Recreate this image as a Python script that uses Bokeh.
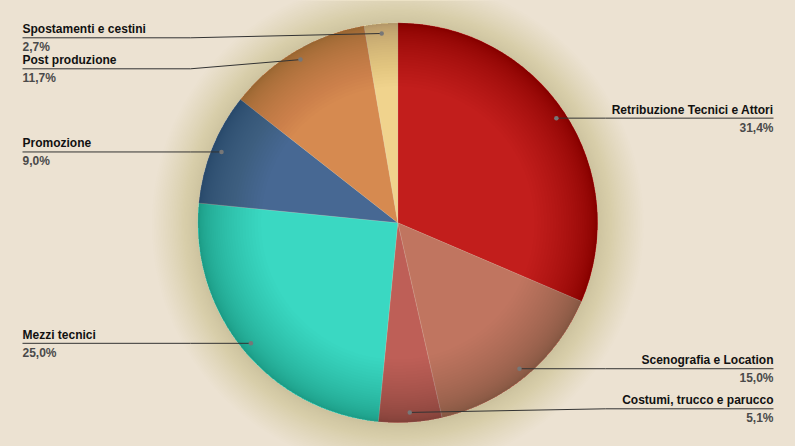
import math
from bokeh.plotting import figure
from bokeh.models import Range1d
from bokeh.core.properties import value
from bokeh.embed import file_html
from bokeh.resources import INLINE

# ---- data ----
categories = ["Retribuzione Tecnici e Attori", "Scenografia e Location", "Costumi, trucco e parucco",
              "Mezzi tecnici", "Promozione", "Post produzione", "Spostamenti e cestini"]
percent = [31.4, 15.0, 5.1, 25.0, 9.0, 11.7, 2.7]
colors = ["#C21E1C", "#C07560", "#BE5F57", "#3AD8C2", "#476893", "#D68A50", "#F0D38D"]

# ---- layout ----
W, H = 795, 446
BG = "#ECE2D2"
CX, CY_PAGE = 397.3, 222.3
R = 200.0
DOT_R = 190.0


def py(page_y):
    return H - page_y


CY = py(CY_PAGE)

p = figure(width=W, height=H, x_range=Range1d(0, W), y_range=Range1d(0, H),
           output_backend="svg", toolbar_location=None, min_border=0,
           x_axis_type=None, y_axis_type=None,
           background_fill_color=BG, border_fill_color=BG, outline_line_color=None)
p.grid.visible = False

# soft shadow around the pie
n_sh = 32
for k in range(n_sh):
    r = R + 46 * ((k + 1) / n_sh) ** 1.3
    p.circle(x=[CX], y=[CY - 1.5], radius=r, radius_units="screen",
             fill_color="#a5865a", fill_alpha=0.012, line_color=None)

# wedges
total = sum(percent)
cum = 0.0
mids = []
for cat, v, c in zip(categories, percent, colors):
    a0 = math.pi / 2 - 2 * math.pi * cum / total
    a1 = math.pi / 2 - 2 * math.pi * (cum + v) / total
    p.wedge(x=[CX], y=[CY], radius=R, radius_units="screen", start_angle=a0, end_angle=a1,
            direction="clock", fill_color=c, line_color="#ffffff", line_alpha=0.15, line_width=0.8)
    mids.append(math.pi / 2 - 2 * math.pi * (cum + v / 2) / total)
    cum += v

# rim darkening (smooth)
n_rim = 30
for k in range(n_rim):
    d = 1.5 + 62 * ((k + 1) / n_rim) ** 1.6
    p.annulus(x=[CX], y=[CY], inner_radius=R - d, outer_radius=R, inner_radius_units="screen",
              outer_radius_units="screen", fill_color="#2a0a00", fill_alpha=0.0095, line_color=None)

# label positions
dots = []
for m in mids:
    dx = CX + DOT_R * math.cos(m)
    dy_page = CY_PAGE - DOT_R * math.sin(m)
    dots.append((dx, dy_page))

left = [i for i, d in enumerate(dots) if d[0] < CX]
right = [i for i, d in enumerate(dots) if d[0] >= CX]
ly = {}
TOP, BOT, GAP = 37.3, 408.3, 31
for side in (left, right):
    order = sorted(side, key=lambda i: dots[i][1])
    prev = None
    for i in order:
        y = max(dots[i][1], TOP)
        if prev is not None:
            y = max(y, prev + GAP)
        ly[i] = y
        prev = y
    nxt = None
    for i in reversed(order):
        y = min(ly[i], BOT)
        if nxt is not None:
            y = min(y, nxt - GAP)
        ly[i] = y
        nxt = y

xs, ys = [], []
for i, (dx, dyp) in enumerate(dots):
    is_left = dx < CX
    x_edge = 22 if is_left else 773
    x_bend = 190 if is_left else 605
    xs.append([x_edge, x_bend, dx])
    ys.append([py(ly[i]), py(ly[i]), py(dyp)])
    align = "left" if is_left else "right"
    p.text(x=[x_edge], y=[py(ly[i] - 8.5)], text=[categories[i]], text_align=align,
           text_baseline="alphabetic", text_font=value("Liberation Sans"), text_font_style="bold",
           text_font_size="12px", text_color="#111111")
    lab = ("%.1f" % percent[i]).replace(".", ",") + "%"
    p.text(x=[x_edge], y=[py(ly[i] + 9.5)], text=[lab], text_align=align,
           text_baseline="alphabetic", text_font=value("Liberation Sans"), text_font_style="bold",
           text_font_size="12px", text_color="#4a4a4a")

p.multi_line(xs=xs, ys=ys, line_color="#333333", line_width=1)
p.scatter(x=[d[0] for d in dots], y=[py(d[1]) for d in dots], size=4.5,
          fill_color="#777777", line_color=None)

html = file_html(p, INLINE)
html = html.replace("</head>", "<style>html,body{background:%s;}</style></head>" % BG, 1)
open("out.html", "w").write(html)
